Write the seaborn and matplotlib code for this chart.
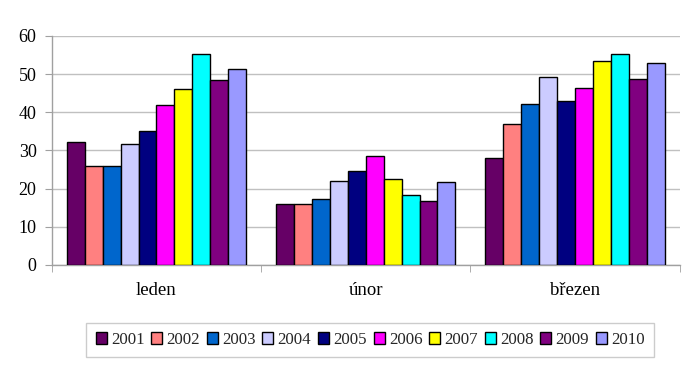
import seaborn as sns
import matplotlib.pyplot as plt
import pandas as pd
from matplotlib.ticker import FixedLocator

# data
months = ["leden", "únor", "březen"]
years = ["2001", "2002", "2003", "2004", "2005", "2006", "2007", "2008", "2009", "2010"]
leden = [32.1, 26.0, 26.0, 31.8, 35.0, 41.8, 46.0, 55.3, 48.5, 51.3]
unor = [16.1, 16.1, 17.2, 22.1, 24.7, 28.6, 22.4, 18.2, 16.7, 21.8]
brezen = [27.9, 36.8, 42.1, 49.3, 42.9, 46.4, 53.5, 55.3, 48.8, 52.8]
colors = ["#660066", "#FF8080", "#0066CC", "#CCCCFF", "#000080",
          "#FF00FF", "#FFFF00", "#00FFFF", "#800080", "#9999FF"]

rows = []
for month, vals in zip(months, [leden, unor, brezen]):
    for year, v in zip(years, vals):
        rows.append({"month": month, "year": year, "value": v})
df = pd.DataFrame(rows)

sns.set_style("white")
plt.rcParams['font.family'] = ['Liberation Serif', 'DejaVu Serif']

fig = plt.figure(figsize=(7, 3.66), dpi=100)
ax = fig.add_axes([0.074, 0.276, 0.897, 0.626])

sns.barplot(data=df, x="month", y="value", hue="year", palette=colors,
            saturation=1, width=0.857, edgecolor="black", linewidth=1,
            ax=ax, zorder=3)

ax.set_ylim(0, 60)
ax.set_xlim(-0.5, 2.5)
ax.set_yticks(range(0, 61, 10))
ax.yaxis.grid(True, color="#c0c0c0", linewidth=1, zorder=0)
ax.set_axisbelow(True)
ax.set_xlabel("")
ax.set_ylabel("")

for s in ["top", "right"]:
    ax.spines[s].set_visible(False)
for s in ["left", "bottom"]:
    ax.spines[s].set_color("#a0a0a0")
    ax.spines[s].set_linewidth(1)

ax.tick_params(axis="y", labelsize=13, labelcolor="black", length=5,
               color="#a0a0a0", left=True, pad=6)
ax.tick_params(axis="x", which="major", labelsize=13.5, labelcolor="black",
               length=0, pad=12)
ax.xaxis.set_minor_locator(FixedLocator([-0.5, 0.5, 1.5, 2.5]))
ax.tick_params(axis="x", which="minor", length=5, color="#a0a0a0", bottom=True)

handles, labels = ax.get_legend_handles_labels()
ax.legend_.remove()
leg = fig.legend(handles, labels, loc="center", bbox_to_anchor=(0.529, 1 - 340 / 366),
                 ncol=10, fontsize=12.2, frameon=True, fancybox=False,
                 handlelength=0.65, handleheight=0.65, handletextpad=0.25,
                 columnspacing=0.4, borderpad=0.55)
leg.get_frame().set_edgecolor("#c0c0c0")
leg.get_frame().set_linewidth(1)

fig.savefig("out.png", dpi=100)
